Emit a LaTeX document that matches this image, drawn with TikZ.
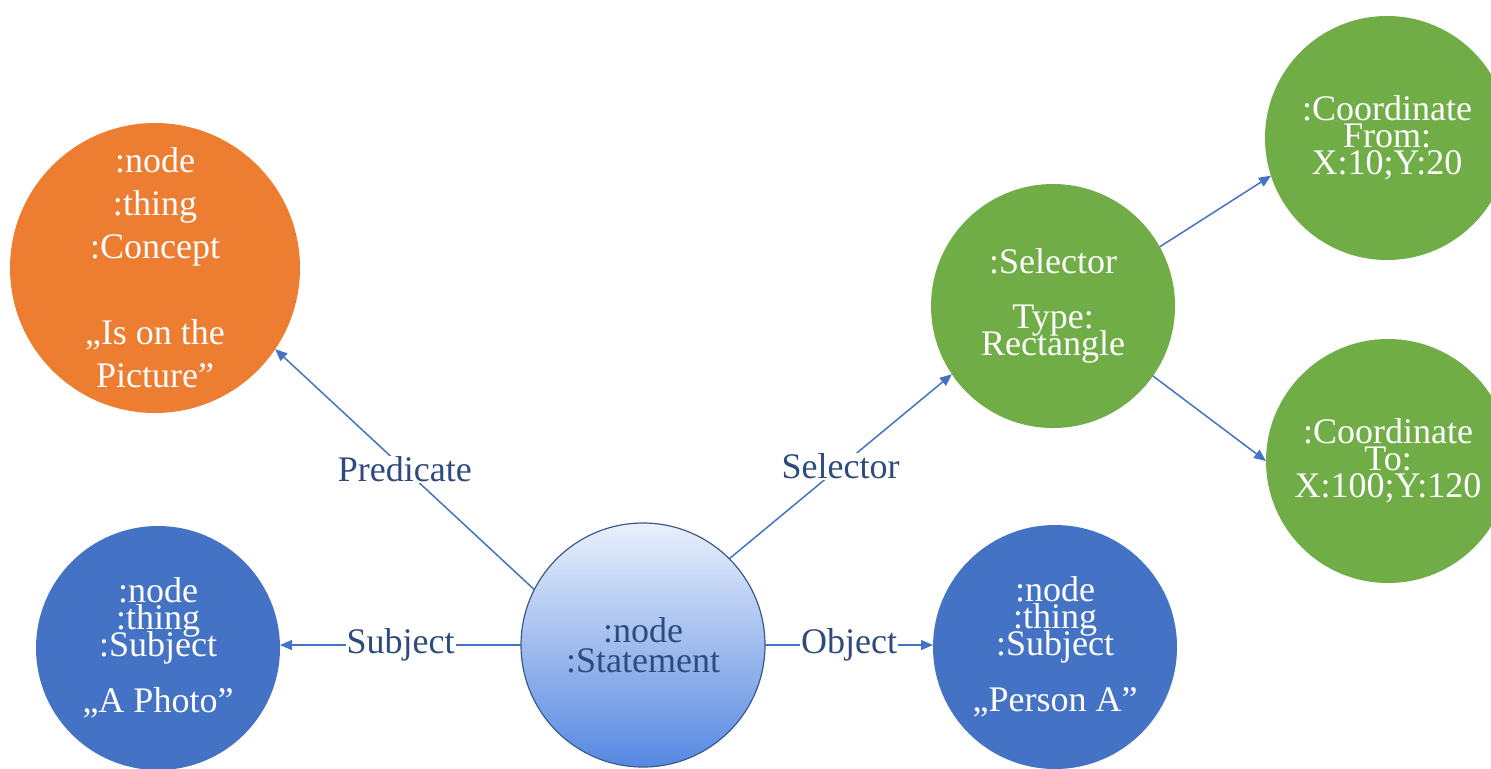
\documentclass[tikz,border=0pt]{standalone}
\usepackage{fontspec}
\setmainfont{Liberation Serif}
\usetikzlibrary{arrows.meta}

\definecolor{accblue}{HTML}{4472C4}
\definecolor{accorange}{HTML}{ED7D31}
\definecolor{accgreen}{HTML}{70AD47}
\definecolor{labelblue}{HTML}{2F4A7C}
\definecolor{rimblue}{HTML}{3A5A8C}
\definecolor{shadetop}{RGB}{234,240,251}
\definecolor{shadebot}{RGB}{86,136,226}

\begin{document}
\begin{tikzpicture}[x=0.5pt,y=-0.5pt,
  ball/.style={circle, minimum size=122pt, inner sep=0pt, outer sep=0pt,
    draw=none, text=white, align=center,
    font={\fontsize{18}{13.5}\selectfont\lineskiplimit=-100pt}},
  looseball/.style={ball, minimum size=145pt,
    font={\fontsize{18}{21.5}\selectfont\lineskiplimit=-100pt}},
  statement/.style={ball, draw=rimblue, line width=0.6pt, text=labelblue,
    top color=shadetop, bottom color=shadebot,
    font={\fontsize{18}{15}\selectfont\lineskiplimit=-100pt}},
  link/.style={draw=accblue, line width=0.75pt,
    -{Triangle[length=6pt,width=5pt]}},
  lab/.style={fill=white, inner sep=0.5pt, text=labelblue,
    font=\fontsize{18}{22}\selectfont}]

\useasboundingbox (0,0) rectangle (1491,768);

% central statement node
\node[statement] (stmt) at (643,645) {:node\\:Statement};

% predicate concept
\node[looseball, fill=accorange] (concept) at (155,268)
  {:node\\:thing\\:Concept\\[21.5pt]„Is on the\\Picture”};

% subject and object
\node[ball, fill=accblue] (subj) at (158,648)
  {:node\\:thing\\:Subject\\[14.5pt]„A Photo”};
\node[ball, fill=accblue] (obj) at (1055,647)
  {:node\\:thing\\:Subject\\[14.5pt]„Person A”};

% selector and its coordinates
\node[ball, fill=accgreen] (sel) at (1053,306)
  {:Selector\\[14pt]Type:\\Rectangle};
\node[ball, fill=accgreen] (cfrom) at (1387,138)
  {:Coordinate\\From:\\X:10;Y:20};
\node[ball, fill=accgreen] (cto) at (1388,461)
  {:Coordinate\\To:\\X:100;Y:120};

% relations
\draw[link] (stmt.153) -- node[lab] {Predicate} (concept.-34);
\draw[link] (stmt.45) -- node[lab] {Selector} (sel.214);
\draw[link] (stmt.west) -- node[lab] {Subject} (stmt.west -| subj.east);
\draw[link] (stmt.east) -- node[lab] {Object} (stmt.east -| obj.west);
\draw[link] (sel.29) -- (cfrom.198);
\draw[link] (sel.-35) -- (cto.180);

\end{tikzpicture}
\end{document}
